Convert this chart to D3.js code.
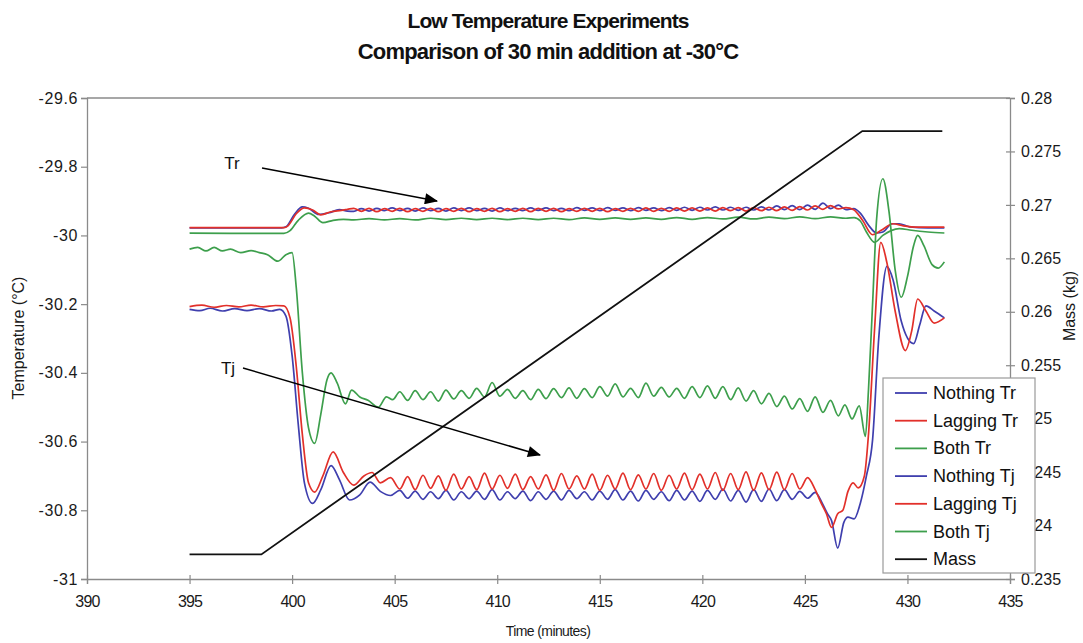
<!DOCTYPE html>
<html>
<head>
<meta charset="utf-8">
<script src="https://cdn.jsdelivr.net/npm/d3@7/dist/d3.min.js"></script>
<style>
  html, body { margin: 0; padding: 0; background: #fff; }
  svg { display: block; font-family: "Liberation Sans", Arial, sans-serif; }
</style>
</head>
<body>
<svg id="chart" width="1083" height="643"></svg>
<script>
// ---------------- DATA ----------------
const titleLines = ["Low Temperature Experiments", "Comparison of 30 min addition at -30°C"];
const xTicks = [390, 395, 400, 405, 410, 415, 420, 425, 430, 435];
const yTicks = [-29.6, -29.8, -30, -30.2, -30.4, -30.6, -30.8, -31];
const massTicks = [0.28, 0.275, 0.27, 0.265, 0.26, 0.255, 0.25, 0.245, 0.24, 0.235];
const seriesNames = ["Nothing Tr", "Lagging Tr", "Both Tr", "Nothing Tj", "Lagging Tj", "Both Tj", "Mass"];
const seriesColors = ["#3f3fae", "#e2302a", "#3d9f4c", "#3f3fae", "#e2302a", "#3d9f4c", "#111111"];

const nothingTr = [
  [395,-29.978],[397,-29.978],[399.5,-29.978],[399.7,-29.975],[400.1,-29.94],[400.5,-29.917],[400.8,-29.921],
  [401.3,-29.939],[401.8,-29.934],[402.3,-29.925],[402.7,-29.929],
  [403.0,-29.930],[403.38,-29.922],[403.75,-29.929],[404.13,-29.921],[404.5,-29.928],[404.88,-29.920],
  [405.25,-29.928],[405.63,-29.921],[406.0,-29.929],[406.38,-29.920],[406.75,-29.928],[407.13,-29.921],
  [407.5,-29.929],[407.88,-29.920],[408.25,-29.928],[408.63,-29.920],[409.0,-29.928],[409.38,-29.921],
  [409.75,-29.929],[410.13,-29.920],[410.5,-29.928],[410.88,-29.921],[411.25,-29.928],[411.63,-29.920],
  [412.0,-29.927],[412.38,-29.920],[412.75,-29.928],[413.13,-29.921],[413.5,-29.928],[413.88,-29.919],
  [414.25,-29.927],[414.63,-29.920],[415.0,-29.928],[415.38,-29.919],[415.75,-29.927],[416.13,-29.920],
  [416.5,-29.928],[416.88,-29.919],[417.25,-29.927],[417.63,-29.920],[418.0,-29.928],[418.38,-29.919],
  [418.75,-29.927],[419.13,-29.918],[419.5,-29.927],[419.88,-29.918],[420.25,-29.926],[420.63,-29.917],
  [421.0,-29.926],[421.38,-29.918],[421.75,-29.927],[422.13,-29.918],[422.5,-29.926],[422.88,-29.917],
  [423.25,-29.926],[423.63,-29.914],[424.0,-29.925],[424.38,-29.913],[424.75,-29.925],[425.13,-29.912],
  [425.5,-29.924],[425.88,-29.906],[426.25,-29.922],[426.63,-29.912],[427.0,-29.925],[427.38,-29.922],
  [427.7,-29.935],[428.1,-29.97],[428.5,-29.993],[428.8,-29.99],[429.25,-29.966],[429.6,-29.966],
  [430.1,-29.975],[431,-29.978],[431.8,-29.978]
];
const laggingTr = [
  [395,-29.977],[397,-29.977],[399.6,-29.977],[399.8,-29.972],[400.2,-29.937],[400.6,-29.920],[401.0,-29.926],
  [401.4,-29.940],[401.9,-29.931],[402.4,-29.927],[402.7,-29.924],
  [403.0,-29.921],[403.38,-29.930],[403.75,-29.921],[404.13,-29.931],[404.5,-29.922],[404.88,-29.930],
  [405.25,-29.921],[405.63,-29.931],[406.0,-29.922],[406.38,-29.930],[406.75,-29.921],[407.13,-29.931],
  [407.5,-29.922],[407.88,-29.930],[408.25,-29.921],[408.63,-29.931],[409.0,-29.922],[409.38,-29.930],
  [409.75,-29.921],[410.13,-29.931],[410.5,-29.922],[410.88,-29.930],[411.25,-29.921],[411.63,-29.931],
  [412.0,-29.921],[412.38,-29.930],[412.75,-29.921],[413.13,-29.931],[413.5,-29.922],[413.88,-29.930],
  [414.25,-29.921],[414.63,-29.930],[415.0,-29.921],[415.38,-29.931],[415.75,-29.922],[416.13,-29.930],
  [416.5,-29.921],[416.88,-29.930],[417.25,-29.920],[417.63,-29.930],[418.0,-29.921],[418.38,-29.930],
  [418.75,-29.920],[419.13,-29.929],[419.5,-29.920],[419.88,-29.929],[420.25,-29.920],[420.63,-29.929],
  [421.0,-29.919],[421.38,-29.928],[421.75,-29.919],[422.13,-29.929],[422.5,-29.919],[422.88,-29.928],
  [423.25,-29.918],[423.63,-29.928],[424.0,-29.917],[424.38,-29.927],[424.75,-29.916],[425.13,-29.926],
  [425.5,-29.914],[425.88,-29.924],[426.25,-29.913],[426.63,-29.923],[427.0,-29.919],[427.38,-29.925],
  [427.8,-29.955],[428.3,-29.998],[428.7,-29.986],[429.3,-29.966],[429.8,-29.972],[430.5,-29.976],
  [431.8,-29.976]
];
const bothTr = [
  [395,-29.993],[397,-29.994],[399.6,-29.994],[399.9,-29.986],[400.3,-29.956],[400.8,-29.935],[401.1,-29.944],
  [401.5,-29.963],[402.0,-29.956],[402.5,-29.953],
  [403.0,-29.955],[403.75,-29.951],[404.5,-29.955],[405.25,-29.951],[406.0,-29.955],[406.75,-29.950],
  [407.5,-29.954],[408.25,-29.950],[409.0,-29.954],[409.75,-29.950],[410.5,-29.954],[411.25,-29.950],
  [412.0,-29.954],[412.75,-29.950],[413.5,-29.954],[414.25,-29.949],[415.0,-29.953],[415.75,-29.949],
  [416.5,-29.953],[417.25,-29.949],[418.0,-29.953],[418.75,-29.948],[419.5,-29.953],[420.25,-29.948],
  [421.0,-29.952],[421.75,-29.947],[422.5,-29.952],[423.25,-29.947],[424.0,-29.951],[424.75,-29.946],
  [425.5,-29.951],[426.25,-29.946],[427.0,-29.950],[427.4,-29.948],
  [427.7,-29.958],[428.0,-29.99],[428.4,-30.02],[428.8,-30.0],[429.2,-29.986],[429.6,-29.98],
  [430.2,-29.985],[431,-29.99],[431.8,-29.993]
];
const nothingTj = [
  [395,-30.215],[395.5,-30.219],[396,-30.212],[396.6,-30.220],[397.2,-30.213],[397.8,-30.219],[398.4,-30.213],
  [399.0,-30.220],[399.4,-30.215],[399.7,-30.235],[400.0,-30.35],[400.3,-30.55],[400.6,-30.72],[401.0,-30.78],
  [401.4,-30.74],[401.9,-30.67],[402.3,-30.71],[402.8,-30.77],[403.3,-30.755],[403.8,-30.718],[404.3,-30.745],
  [404.8,-30.757],
  [405.25,-30.742],[405.63,-30.765],[406.0,-30.744],[406.38,-30.768],[406.75,-30.746],[407.13,-30.766],
  [407.5,-30.742],[407.88,-30.770],[408.25,-30.746],[408.63,-30.766],[409.0,-30.744],[409.38,-30.768],
  [409.75,-30.740],[410.13,-30.770],[410.5,-30.746],[410.88,-30.766],[411.25,-30.744],[411.63,-30.772],
  [412.0,-30.746],[412.38,-30.768],[412.75,-30.744],[413.13,-30.770],[413.5,-30.742],[413.88,-30.766],
  [414.25,-30.746],[414.63,-30.770],[415.0,-30.744],[415.38,-30.768],[415.75,-30.740],[416.13,-30.770],
  [416.5,-30.744],[416.88,-30.773],[417.25,-30.742],[417.63,-30.768],[418.0,-30.746],[418.38,-30.772],
  [418.75,-30.742],[419.13,-30.770],[419.5,-30.744],[419.88,-30.774],[420.25,-30.742],[420.63,-30.768],
  [421.0,-30.738],[421.38,-30.773],[421.75,-30.742],[422.13,-30.776],[422.5,-30.740],[422.88,-30.774],
  [423.25,-30.738],[423.63,-30.772],[424.0,-30.740],[424.38,-30.768],[424.75,-30.745],[425.13,-30.765],
  [425.5,-30.748],[425.85,-30.78],[426.1,-30.81],[426.3,-30.83],[426.6,-30.91],[426.9,-30.835],
  [427.1,-30.82],[427.4,-30.825],[427.7,-30.78],[428.0,-30.70],[428.3,-30.595],[428.6,-30.30],
  [429.0,-30.09],[429.3,-30.13],[429.7,-30.25],[430.3,-30.315],[430.6,-30.26],[430.9,-30.205],
  [431.3,-30.22],[431.8,-30.24]
];
const laggingTj = [
  [395,-30.207],[395.6,-30.203],[396.2,-30.209],[396.8,-30.204],[397.4,-30.208],[398.0,-30.203],[398.6,-30.208],
  [399.2,-30.204],[399.6,-30.205],[399.9,-30.24],[400.2,-30.38],[400.5,-30.58],[400.8,-30.72],[401.1,-30.747],
  [401.5,-30.70],[402.0,-30.63],[402.5,-30.69],[403.0,-30.727],[403.5,-30.70],[403.9,-30.69],[404.3,-30.72],
  [404.8,-30.705],
  [405.25,-30.738],[405.63,-30.702],[406.0,-30.740],[406.38,-30.698],[406.75,-30.736],[407.13,-30.700],
  [407.5,-30.742],[407.88,-30.695],[408.25,-30.738],[408.63,-30.702],[409.0,-30.740],[409.38,-30.692],
  [409.75,-30.738],[410.13,-30.698],[410.5,-30.736],[410.88,-30.695],[411.25,-30.740],[411.63,-30.702],
  [412.0,-30.738],[412.38,-30.697],[412.75,-30.742],[413.13,-30.693],[413.5,-30.738],[413.88,-30.700],
  [414.25,-30.738],[414.63,-30.695],[415.0,-30.742],[415.38,-30.698],[415.75,-30.738],[416.13,-30.692],
  [416.5,-30.740],[416.88,-30.697],[417.25,-30.738],[417.63,-30.693],[418.0,-30.742],[418.38,-30.698],
  [418.75,-30.738],[419.13,-30.692],[419.5,-30.740],[419.88,-30.695],[420.25,-30.738],[420.63,-30.690],
  [421.0,-30.742],[421.38,-30.693],[421.75,-30.740],[422.13,-30.688],[422.5,-30.742],[422.88,-30.691],
  [423.25,-30.740],[423.63,-30.689],[424.0,-30.740],[424.38,-30.693],[424.75,-30.738],[425.13,-30.705],
  [425.5,-30.74],[425.8,-30.78],[426.05,-30.81],[426.3,-30.85],[426.6,-30.81],[426.85,-30.80],
  [427.1,-30.745],[427.35,-30.72],[427.6,-30.735],[427.9,-30.70],[428.1,-30.58],[428.4,-30.27],
  [428.7,-30.02],[429.0,-30.08],[429.4,-30.22],[429.9,-30.335],[430.2,-30.28],[430.5,-30.185],
  [430.9,-30.22],[431.3,-30.255],[431.8,-30.24]
];
const bothTj = [
  [395,-30.040],[395.4,-30.035],[395.8,-30.045],[396.2,-30.035],[396.6,-30.045],[397.0,-30.040],[397.5,-30.050],
  [398.0,-30.044],[398.4,-30.050],[398.8,-30.056],[399.3,-30.075],[399.7,-30.056],[400.0,-30.05],[400.2,-30.15],
  [400.5,-30.40],[400.8,-30.56],[401.1,-30.605],[401.4,-30.52],[401.7,-30.42],[401.9,-30.40],[402.2,-30.43],
  [402.6,-30.49],[402.9,-30.45],[403.3,-30.47],[403.7,-30.48],[404.2,-30.50],[404.6,-30.47],[404.9,-30.478],
  [405.25,-30.455],[405.63,-30.480],[406.0,-30.452],[406.38,-30.478],[406.75,-30.455],[407.13,-30.482],
  [407.5,-30.450],[407.88,-30.476],[408.25,-30.452],[408.63,-30.474],[409.0,-30.445],[409.38,-30.470],
  [409.75,-30.428],[410.13,-30.468],[410.5,-30.448],[410.88,-30.474],[411.25,-30.452],[411.63,-30.478],
  [412.0,-30.448],[412.38,-30.475],[412.75,-30.446],[413.13,-30.472],[413.5,-30.444],[413.88,-30.474],
  [414.25,-30.446],[414.63,-30.472],[415.0,-30.440],[415.38,-30.468],[415.75,-30.432],[416.13,-30.470],
  [416.5,-30.445],[416.88,-30.472],[417.25,-30.430],[417.63,-30.468],[418.0,-30.442],[418.38,-30.470],
  [418.75,-30.445],[419.13,-30.474],[419.5,-30.440],[419.88,-30.472],[420.25,-30.438],[420.63,-30.474],
  [421.0,-30.440],[421.38,-30.478],[421.75,-30.444],[422.13,-30.482],[422.5,-30.452],[422.88,-30.490],
  [423.25,-30.460],[423.63,-30.498],[424.0,-30.468],[424.38,-30.505],[424.75,-30.475],[425.13,-30.512],
  [425.5,-30.47],[425.88,-30.515],[426.25,-30.48],[426.63,-30.525],[426.95,-30.493],[427.3,-30.534],
  [427.65,-30.496],[427.95,-30.585],[428.1,-30.45],[428.3,-30.2],[428.5,-29.95],[428.8,-29.835],
  [429.1,-29.93],[429.4,-30.1],[429.7,-30.18],[430.0,-30.12],[430.3,-30.03],[430.5,-30.0],[430.8,-30.03],
  [431.2,-30.085],[431.5,-30.095],[431.8,-30.077]
];
const mass = [[395,0.2373],[398.5,0.2373],[427.8,0.2769],[431.7,0.2769]];

const annotations = [
  {label: "Tr", lx: 232, ly: 163, x1: 262, y1: 168, x2: 437, y2: 201},
  {label: "Tj", lx: 228, ly: 368, x1: 243, y1: 368, x2: 540, y2: 455}
];

// ---------------- LAYOUT ----------------
const W = 1083, H = 643;
const m = {left: 87, right: 73, top: 98, bottom: 64};
const pw = W - m.left - m.right, ph = H - m.top - m.bottom;
const svg = d3.select("#chart");

const x = d3.scaleLinear().domain([390, 435]).range([m.left, m.left + pw]);
const y = d3.scaleLinear().domain([-31, -29.6]).range([m.top + ph, m.top]);
const y2 = d3.scaleLinear().domain([0.235, 0.28]).range([m.top + ph, m.top]);

const axisColor = "#8a8a8a";
const textColor = "#1a1a1a";

// Title
svg.append("text").attr("x", 548).attr("y", 28).attr("text-anchor", "middle")
  .attr("font-size", 21).attr("font-weight", "bold").attr("letter-spacing", -0.9).attr("fill", "#111")
  .text(titleLines[0]);
svg.append("text").attr("x", 548).attr("y", 59).attr("text-anchor", "middle")
  .attr("font-size", 22).attr("font-weight", "bold").attr("letter-spacing", -0.8).attr("fill", "#111")
  .text(titleLines[1]);

// Frame top
svg.append("line").attr("x1", m.left).attr("x2", m.left + pw).attr("y1", m.top).attr("y2", m.top)
  .attr("stroke", axisColor).attr("stroke-width", 1.3);

// Left axis
const gl = svg.append("g").attr("transform", `translate(${m.left},0)`)
  .call(d3.axisLeft(y).tickValues(yTicks).tickSize(6).tickPadding(3).tickFormat(d => String(+d.toFixed(1))));
// Bottom axis
const gb = svg.append("g").attr("transform", `translate(0,${m.top + ph})`)
  .call(d3.axisBottom(x).tickValues(xTicks).tickSize(5).tickPadding(12).tickFormat(d => String(d)));
// Right axis
const gr = svg.append("g").attr("transform", `translate(${m.left + pw},0)`)
  .call(d3.axisRight(y2).tickValues(massTicks).tickSize(5).tickPadding(6).tickFormat(d => String(+d.toFixed(3))));

[gl, gb, gr].forEach(g => {
  g.select(".domain").attr("stroke", axisColor).attr("stroke-width", 1.3);
  g.selectAll(".tick line").attr("stroke", axisColor).attr("stroke-width", 1.2);
  g.selectAll(".tick text").attr("fill", textColor).attr("font-size", 16)
    .attr("font-family", "'Liberation Sans', Arial, sans-serif");
});
gb.selectAll(".tick line").attr("y1", -4);
gr.selectAll(".tick line").attr("x1", -4);
gl.selectAll(".tick text").attr("letter-spacing", 0.6);
gb.selectAll(".tick text").attr("letter-spacing", -0.8);

// Axis titles
svg.append("text").attr("transform", "translate(24,338) rotate(-90)").attr("text-anchor", "middle")
  .attr("font-size", 16).attr("fill", textColor).text("Temperature (°C)");
svg.append("text").attr("transform", "translate(1075,306) rotate(-90)").attr("text-anchor", "middle")
  .attr("font-size", 16).attr("fill", textColor).text("Mass (kg)");
svg.append("text").attr("x", 548).attr("y", 636).attr("text-anchor", "middle")
  .attr("font-size", 14).attr("letter-spacing", -0.6).attr("fill", textColor).text("Time (minutes)");

// Lines
const lineT = d3.line().x(d => x(d[0])).y(d => y(d[1])).curve(d3.curveMonotoneX);
const lineM = d3.line().x(d => x(d[0])).y(d => y2(d[1]));
const tempSeries = [nothingTr, laggingTr, bothTr, nothingTj, laggingTj, bothTj];
const plot = svg.append("g");
tempSeries.forEach((s, i) => {
  plot.append("path").datum(s).attr("d", lineT).attr("fill", "none")
    .attr("stroke", seriesColors[i]).attr("stroke-width", 1.7).attr("stroke-linejoin", "round");
});
plot.append("path").datum(mass).attr("d", lineM).attr("fill", "none")
  .attr("stroke", seriesColors[6]).attr("stroke-width", 1.8);

// Annotations with arrows
svg.append("defs").append("marker").attr("id", "arrow")
  .attr("viewBox", "0 0 12 10").attr("refX", 11).attr("refY", 5)
  .attr("markerWidth", 15).attr("markerHeight", 11).attr("markerUnits", "userSpaceOnUse")
  .attr("orient", "auto")
  .append("path").attr("d", "M0,0 L12,5 L0,10 Z").attr("fill", "#000");
annotations.forEach(a => {
  svg.append("line").attr("x1", a.x1).attr("y1", a.y1).attr("x2", a.x2).attr("y2", a.y2)
    .attr("stroke", "#000").attr("stroke-width", 1.5).attr("marker-end", "url(#arrow)");
  svg.append("text").attr("x", a.lx).attr("y", a.ly).attr("text-anchor", "middle")
    .attr("dominant-baseline", "central").attr("font-size", 17).attr("fill", "#111").text(a.label);
});

// Legend
const lg = svg.append("g");
lg.append("rect").attr("x", 883).attr("y", 378).attr("width", 152).attr("height", 195)
  .attr("fill", "#fff").attr("stroke", "#9a9a9a").attr("stroke-width", 1.2);
seriesNames.forEach((n, i) => {
  const yy = 393 + i * 27.7;
  lg.append("line").attr("x1", 895).attr("x2", 927).attr("y1", yy).attr("y2", yy)
    .attr("stroke", seriesColors[i]).attr("stroke-width", 1.8);
  lg.append("text").attr("x", 933).attr("y", yy).attr("dominant-baseline", "central")
    .attr("font-size", 18).attr("fill", "#111").text(n);
});
</script>
</body>
</html>
